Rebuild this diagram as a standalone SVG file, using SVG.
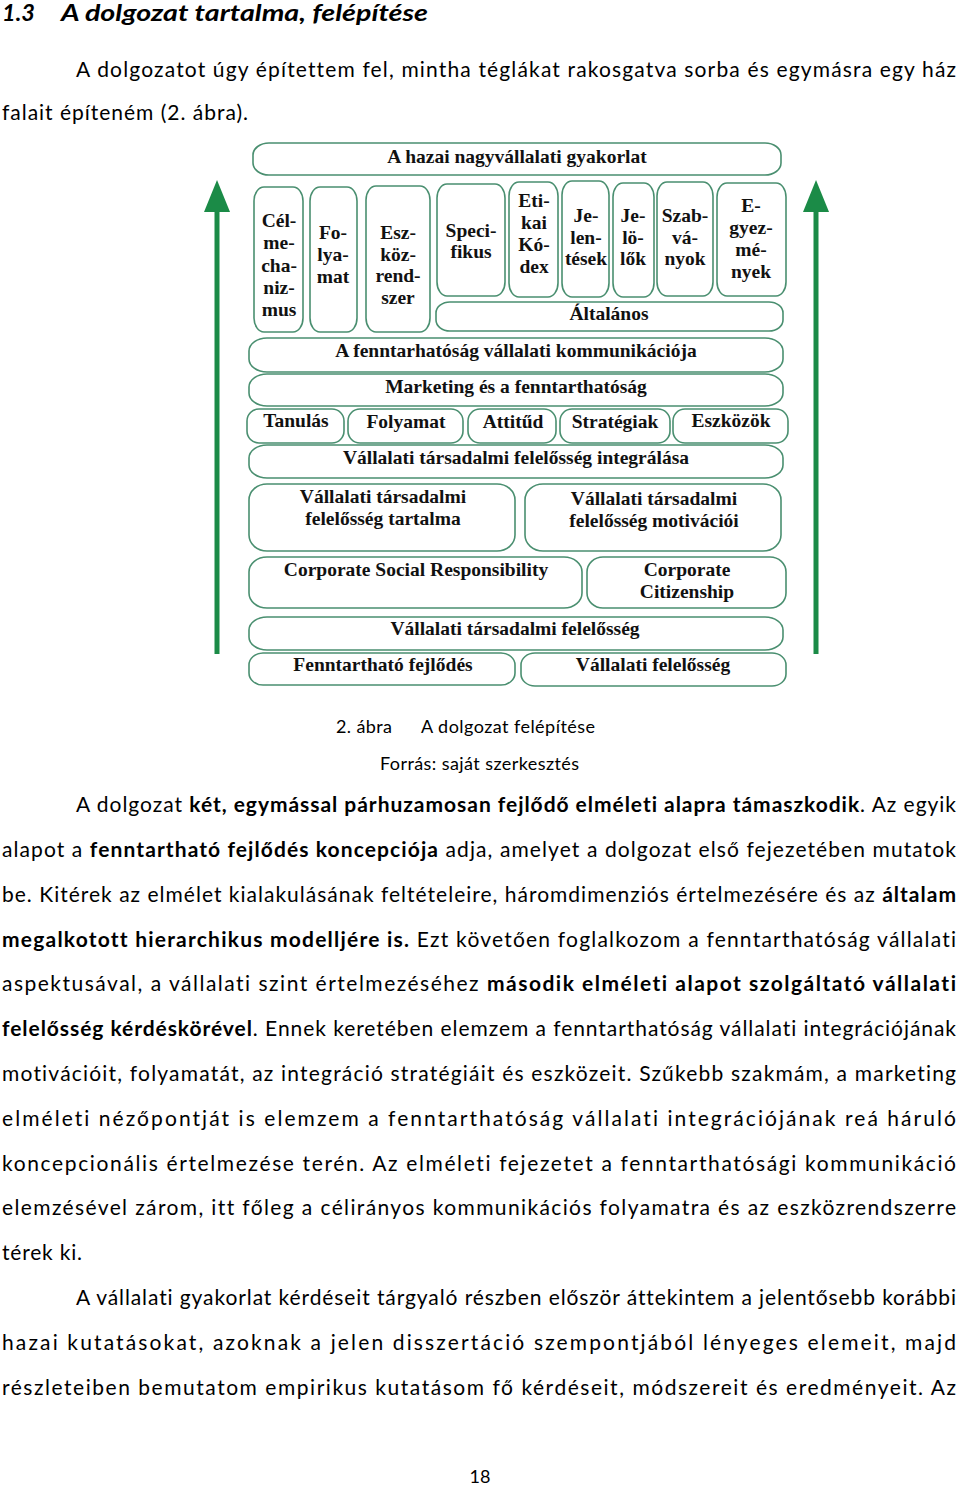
<svg xmlns="http://www.w3.org/2000/svg" width="960" height="1485" viewBox="0 0 960 1485">
<style>
.body{font-family:Lato,"Liberation Sans",sans-serif;font-size:21px;fill:#000;font-variant-ligatures:none}
.b{font-weight:bold}
.cap{font-family:Lato,"Liberation Sans",sans-serif;font-size:18px;fill:#000;font-variant-ligatures:none}
.h{font-family:Lato,"Liberation Sans",sans-serif;font-size:23.5px;font-weight:bold;font-style:italic;fill:#000}
.box{fill:#fff;stroke:#4a8f70;stroke-width:1.6}
.t{font-family:"Liberation Serif","Times New Roman",serif;font-size:19.5px;font-weight:bold;fill:#111;text-anchor:middle}
.arrow{fill:#1b8b47}
</style>
<rect width="960" height="1485" fill="#fff"/>

<g id="text-top">
<text class="h" x="2" y="21">1.3</text>
<text class="h" x="61" y="21" textLength="367" lengthAdjust="spacingAndGlyphs">A dolgozat tartalma, felépítése</text>
<text class="body" x="76" y="77" textLength="880" lengthAdjust="spacing">A dolgozatot úgy építettem fel, mintha téglákat rakosgatva sorba és egymásra egy ház</text>
<text class="body" x="2" y="120" textLength="246" lengthAdjust="spacing">falait építeném (2. ábra).</text>
</g>

<g id="arrows">
<rect class="arrow" x="214.5" y="208" width="5" height="446"/>
<polygon class="arrow" points="217,180 204,212 230,212"/>
<rect class="arrow" x="813.5" y="208" width="5" height="446"/>
<polygon class="arrow" points="816,180 803,212 829,212"/>
</g>

<g id="n-hazai"><rect class="box" x="253" y="143" width="528" height="32" rx="16" ry="12"/><text class="t" x="517" y="163">A hazai nagyvállalati gyakorlat</text></g>

<g id="n-celmechanizmus"><rect class="box" x="254" y="187" width="49" height="145" rx="10" ry="14"/>
<text class="t" x="279" y="227">Cél-</text><text class="t" x="279" y="249">me-</text><text class="t" x="279" y="272">cha-</text><text class="t" x="279" y="294">niz-</text><text class="t" x="279" y="316">mus</text></g>

<g id="n-folyamat-col"><rect class="box" x="310" y="187" width="47" height="145" rx="10" ry="14"/>
<text class="t" x="333" y="239">Fo-</text><text class="t" x="333" y="261">lya-</text><text class="t" x="333" y="283">mat</text></g>

<g id="n-eszkozrendszer"><rect class="box" x="366" y="186" width="64" height="146" rx="10" ry="14"/>
<text class="t" x="398" y="239">Esz-</text><text class="t" x="398" y="261">köz-</text><text class="t" x="398" y="282">rend-</text><text class="t" x="398" y="304">szer</text></g>

<g id="n-specifikus"><rect class="box" x="437" y="184" width="68" height="112" rx="10" ry="14"/>
<text class="t" x="471" y="237">Speci-</text><text class="t" x="471" y="258">fikus</text></g>

<g id="n-etikai"><rect class="box" x="509" y="182" width="49" height="115" rx="10" ry="14"/>
<text class="t" x="534" y="207">Eti-</text><text class="t" x="534" y="229">kai</text><text class="t" x="534" y="251">Kó-</text><text class="t" x="534" y="273">dex</text></g>

<g id="n-jelentesek"><rect class="box" x="562" y="181" width="47" height="116" rx="10" ry="14"/>
<text class="t" x="586" y="222">Je-</text><text class="t" x="586" y="244">len-</text><text class="t" x="586" y="265">tések</text></g>

<g id="n-jelolok"><rect class="box" x="613" y="183" width="41" height="114" rx="10" ry="14"/>
<text class="t" x="633" y="222">Je-</text><text class="t" x="633" y="244">lö-</text><text class="t" x="633" y="265">lők</text></g>

<g id="n-szabvanyok"><rect class="box" x="657" y="182" width="56" height="114" rx="10" ry="14"/>
<text class="t" x="685" y="222">Szab-</text><text class="t" x="685" y="244">vá-</text><text class="t" x="685" y="265">nyok</text></g>

<g id="n-egyezmenyek"><rect class="box" x="717" y="183" width="69" height="113" rx="10" ry="14"/>
<text class="t" x="751" y="212">E-</text><text class="t" x="751" y="234">gyez-</text><text class="t" x="751" y="256">mé-</text><text class="t" x="751" y="278">nyek</text></g>

<g id="n-altalanos"><rect class="box" x="436" y="302" width="347" height="29" rx="14" ry="11"/><text class="t" x="609" y="320">Általános</text></g>

<g id="n-kommunikacio"><rect class="box" x="249" y="338" width="534" height="34" rx="18" ry="13"/><text class="t" x="516" y="357">A fenntarhatóság vállalati kommunikációja</text></g>

<g id="n-marketing"><rect class="box" x="249" y="374" width="534" height="32" rx="18" ry="13"/><text class="t" x="516" y="393">Marketing és a fenntarthatóság</text></g>

<g id="n-tanulas"><rect class="box" x="247" y="409" width="97" height="34" rx="12" ry="12"/><text class="t" x="296" y="427">Tanulás</text></g>
<g id="n-folyamat"><rect class="box" x="348" y="409" width="115" height="34" rx="12" ry="12"/><text class="t" x="406" y="428">Folyamat</text></g>
<g id="n-attitud"><rect class="box" x="468" y="409" width="88" height="34" rx="12" ry="12"/><text class="t" x="513" y="428">Attitűd</text></g>
<g id="n-strategiak"><rect class="box" x="560" y="409" width="110" height="34" rx="12" ry="12"/><text class="t" x="615" y="428">Stratégiak</text></g>
<g id="n-eszkozok"><rect class="box" x="673" y="409" width="115" height="34" rx="12" ry="12"/><text class="t" x="731" y="427">Eszközök</text></g>

<g id="n-integralas"><rect class="box" x="249" y="445" width="534" height="33" rx="18" ry="13"/><text class="t" x="516" y="464">Vállalati társadalmi felelősség integrálása</text></g>

<g id="n-tartalma"><rect class="box" x="249" y="484" width="266" height="67" rx="18" ry="16"/><text class="t" x="383" y="503">Vállalati társadalmi</text><text class="t" x="383" y="525">felelősség tartalma</text></g>
<g id="n-motivacioi"><rect class="box" x="525" y="484" width="256" height="67" rx="18" ry="16"/><text class="t" x="654" y="505">Vállalati társadalmi</text><text class="t" x="654" y="527">felelősség motivációi</text></g>

<g id="n-csr"><rect class="box" x="249" y="557" width="333" height="51" rx="18" ry="15"/><text class="t" x="416" y="576">Corporate Social Responsibility</text></g>
<g id="n-citizenship"><rect class="box" x="587" y="557" width="199" height="51" rx="16" ry="15"/><text class="t" x="687" y="576">Corporate</text><text class="t" x="687" y="598">Citizenship</text></g>

<g id="n-vtf"><rect class="box" x="249" y="617" width="534" height="33" rx="18" ry="13"/><text class="t" x="515" y="635">Vállalati társadalmi felelősség</text></g>

<g id="n-fenntarthato"><rect class="box" x="249" y="653" width="266" height="32" rx="14" ry="12"/><text class="t" x="383" y="671">Fenntartható fejlődés</text></g>
<g id="n-vallalati-felelosseg"><rect class="box" x="521" y="653" width="265" height="33" rx="14" ry="12"/><text class="t" x="653" y="671">Vállalati felelősség</text></g>

<g id="caption">
<text class="cap" x="336" y="733" textLength="56" lengthAdjust="spacing">2. ábra</text>
<text class="cap" x="421" y="733" textLength="174" lengthAdjust="spacing">A dolgozat felépítése</text>
<text class="cap" x="380" y="770" textLength="199" lengthAdjust="spacing">Forrás: saját szerkesztés</text>
</g>

<g id="text-body">
<text class="body" x="76" y="812" textLength="880" lengthAdjust="spacing">A dolgozat <tspan class="b">két, egymással párhuzamosan fejlődő elméleti alapra támaszkodik</tspan>. Az egyik</text>
<text class="body" x="2" y="857" textLength="954" lengthAdjust="spacing">alapot a <tspan class="b">fenntartható fejlődés koncepciója</tspan> adja, amelyet a dolgozat első fejezetében mutatok</text>
<text class="body" x="2" y="901.8" textLength="954" lengthAdjust="spacing">be. Kitérek az elmélet kialakulásának feltételeire, háromdimenziós értelmezésére és az <tspan class="b">általam</tspan></text>
<text class="body" x="2" y="946.6" textLength="954" lengthAdjust="spacing"><tspan class="b">megalkotott hierarchikus modelljére is.</tspan> Ezt követően foglalkozom a fenntarthatóság vállalati</text>
<text class="body" x="2" y="991.4" textLength="954" lengthAdjust="spacing">aspektusával, a vállalati szint értelmezéséhez <tspan class="b">második elméleti alapot szolgáltató vállalati</tspan></text>
<text class="body" x="2" y="1036.2" textLength="954" lengthAdjust="spacing"><tspan class="b">felelősség kérdéskörével</tspan>. Ennek keretében elemzem a fenntarthatóság vállalati integrációjának</text>
<text class="body" x="2" y="1081" textLength="954" lengthAdjust="spacing">motivációit, folyamatát, az integráció stratégiáit és eszközeit. Szűkebb szakmám, a marketing</text>
<text class="body" x="2" y="1125.8" textLength="954" lengthAdjust="spacing">elméleti nézőpontját is elemzem a fenntarthatóság vállalati integrációjának reá háruló</text>
<text class="body" x="2" y="1170.6" textLength="954" lengthAdjust="spacing">koncepcionális értelmezése terén. Az elméleti fejezetet a fenntarthatósági kommunikáció</text>
<text class="body" x="2" y="1215.4" textLength="954" lengthAdjust="spacing">elemzésével zárom, itt főleg a célirányos kommunikációs folyamatra és az eszközrendszerre</text>
<text class="body" x="2" y="1260.2" textLength="80" lengthAdjust="spacing">térek ki.</text>
<text class="body" x="76" y="1305" textLength="880" lengthAdjust="spacing">A vállalati gyakorlat kérdéseit tárgyaló részben először áttekintem a jelentősebb korábbi</text>
<text class="body" x="2" y="1350" textLength="954" lengthAdjust="spacing">hazai kutatásokat, azoknak a jelen disszertáció szempontjából lényeges elemeit, majd</text>
<text class="body" x="2" y="1394.6" textLength="954" lengthAdjust="spacing">részleteiben bemutatom empirikus kutatásom fő kérdéseit, módszereit és eredményeit. Az</text>
<text class="cap" x="480" y="1483" text-anchor="middle">18</text>
</g>
</svg>
